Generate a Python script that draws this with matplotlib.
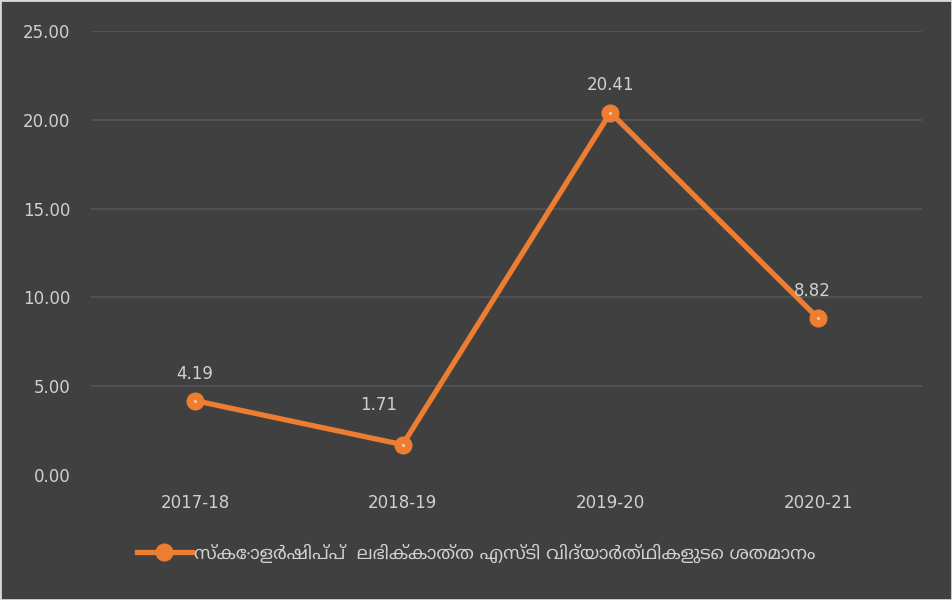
import matplotlib
matplotlib.use('Agg')
import matplotlib.pyplot as plt
import numpy as np

years = ['2017-18', '2018-19', '2019-20', '2020-21']
percent = [4.19, 1.71, 20.41, 8.82]
series_name = 'സ്കോളർഷിപ്പ്  ലഭിക്കാത്ത എസ്‌ടി വിദ്യാർത്ഥികളുടെ ശതമാനം'
y_ticks = [0, 5, 10, 15, 20, 25]

# label offsets in points (Excel pushed 1.71 to the upper left)
label_offsets = [(0, 13), (-17, 22), (0, 13), (-4, 13)]

BG = '#404040'
ORANGE = '#ED7D31'
TXT = '#D0D0D0'

fig = plt.figure(figsize=(9.52, 6), dpi=100, facecolor=BG)
fig.patches.append(plt.Rectangle((0, 0), 1, 1, transform=fig.transFigure,
                                 fill=False, edgecolor='#D9D9D9', linewidth=2))
ax = fig.add_axes([0.0956, 0.2083, 0.873, 0.74])
ax.set_facecolor(BG)

x = np.arange(len(years))
line, = ax.plot(x, percent, color=ORANGE, linewidth=3.8, marker='o',
                markersize=12, markerfacecolor=ORANGE, markeredgecolor=ORANGE,
                label=series_name, solid_joinstyle='round')
ax.plot(x, percent, linestyle='none', marker='o', markersize=1.2,
        color='#F8CBAD')

for xi, v, off in zip(x, percent, label_offsets):
    ax.annotate(f'{v:.2f}', (xi, v), xytext=off, textcoords='offset points',
                ha='center', va='bottom', color=TXT, fontsize=12)

ax.set_xlim(-0.5, 3.5)
ax.set_ylim(0, 25)
ax.set_yticks(y_ticks)
ax.set_yticklabels([f'{t:.2f}' for t in y_ticks])
ax.set_xticks(x)
ax.set_xticklabels(years)
ax.tick_params(colors=TXT, labelsize=12, length=0)
ax.tick_params(axis='y', pad=15)
ax.tick_params(axis='x', pad=14)
ax.grid(axis='y', color='#575757', linewidth=1.1)
ax.yaxis.get_gridlines()[0].set_visible(False)
ax.set_axisbelow(True)
for s in ax.spines.values():
    s.set_visible(False)

leg = fig.legend(handles=[line], loc='center', bbox_to_anchor=(0.5, 0.078),
                 frameon=False, handlelength=3.0, handletextpad=0.1,
                 prop={'family': ['Noto Sans Malayalam', 'DejaVu Sans'], 'size': 13.3})
for t in leg.get_texts():
    t.set_color(TXT)

fig.savefig('out.png', dpi=100, facecolor=BG)
